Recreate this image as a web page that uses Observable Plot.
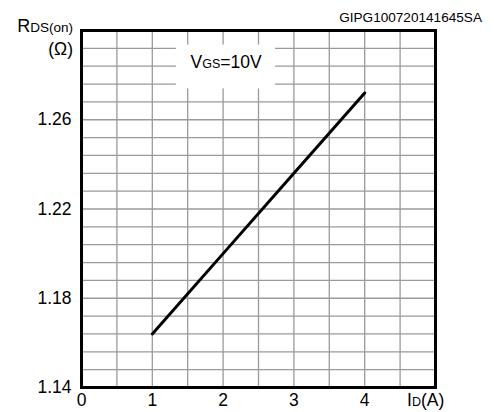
<!DOCTYPE html>
<html>
<head>
<meta charset="utf-8">
<script src="https://cdn.jsdelivr.net/npm/d3@7"></script>
<script src="https://cdn.jsdelivr.net/npm/@observablehq/plot@0.6"></script>
<style>
  html, body { margin: 0; padding: 0; background: #fff; }
  svg { display: block; }
</style>
</head>
<body>
<div id="chart"></div>
<script>
// Data
const currents = [1, 2, 3, 4];                 // ID (A)
const resistance = [1.164, 1.200, 1.236, 1.272]; // RDS(on) (Ω)
const xTicks = [0, 1, 2, 3, 4];
const yTicks = [1.14, 1.18, 1.22, 1.26];
const xDomain = [0, 5];
const yDomain = [1.14, 1.30];
const xGridStep = 0.5;
const yGridStep = 0.008;
const codeLabel = "GIPG100720141645SA";

const series = currents.map((c, i) => ({x: c, y: resistance[i]}));
const xGrid = d3.range(0, 10 + 1).map(i => xDomain[0] + i * xGridStep);
const yGrid = d3.range(0, 20 + 1).map(i => +(yDomain[0] + i * yGridStep).toFixed(4));

const FONT = "'Liberation Sans', Arial, Helvetica, sans-serif";

const plot = Plot.plot({
  width: 494,
  height: 412,
  marginTop: 30,
  marginRight: 59,
  marginBottom: 25,
  marginLeft: 81,
  style: {fontFamily: FONT, fontSize: "17.5px", color: "#000", background: "#fff"},
  x: {domain: xDomain},
  y: {domain: yDomain},
  marks: [
    Plot.ruleX(xGrid, {stroke: "#9a9a9a", strokeWidth: 1.3, strokeOpacity: 1}),
    Plot.ruleY(yGrid, {stroke: "#9a9a9a", strokeWidth: 1.3, strokeOpacity: 1}),
    // white legend box
    Plot.rect([{x1: 1.34, x2: 2.74, y1: 1.2738, y2: 1.2935}], {x1: "x1", x2: "x2", y1: "y1", y2: "y2", fill: "white"}),
    Plot.line(series, {x: "x", y: "y", stroke: "black", strokeWidth: 3}),
    Plot.frame({stroke: "black", strokeWidth: 3}),
    Plot.axisX({ticks: xTicks, tickSize: 0, tickPadding: 6, label: null, tickFormat: d => String(d), fontSize: 17.5}),
    Plot.axisY({ticks: yTicks, tickSize: 0, tickPadding: 10, label: null, tickFormat: d => d.toFixed(2), fontSize: 17.5})
  ]
});

document.getElementById("chart").appendChild(plot);

const svg = d3.select(plot);

function label(x, y, anchor, parts) {
  const t = svg.append("text")
    .attr("x", x).attr("y", y)
    .attr("text-anchor", anchor)
    .attr("font-family", FONT)
    .attr("fill", "black");
  parts.forEach(([s, size]) => t.append("tspan").attr("font-size", size).text(s));
  return t;
}

// Code label top right
label(482, 21.5, "end", [[codeLabel, "13.6px"]]);
// Y axis title
label(73, 31.5, "end", [["R", "18px"], ["DS(on)", "13.5px"]]);
label(73, 55, "end", [["(Ω)", "17.5px"]]);
// X axis title
label(407, 406, "start", [["I", "17.5px"], ["D", "12.5px"], ["(A)", "17.5px"]]);
// Legend text
label(190.5, 67.5, "start", [["V", "17.5px"], ["GS", "12.5px"], ["=10V", "17.5px"]]);
</script>
</body>
</html>
